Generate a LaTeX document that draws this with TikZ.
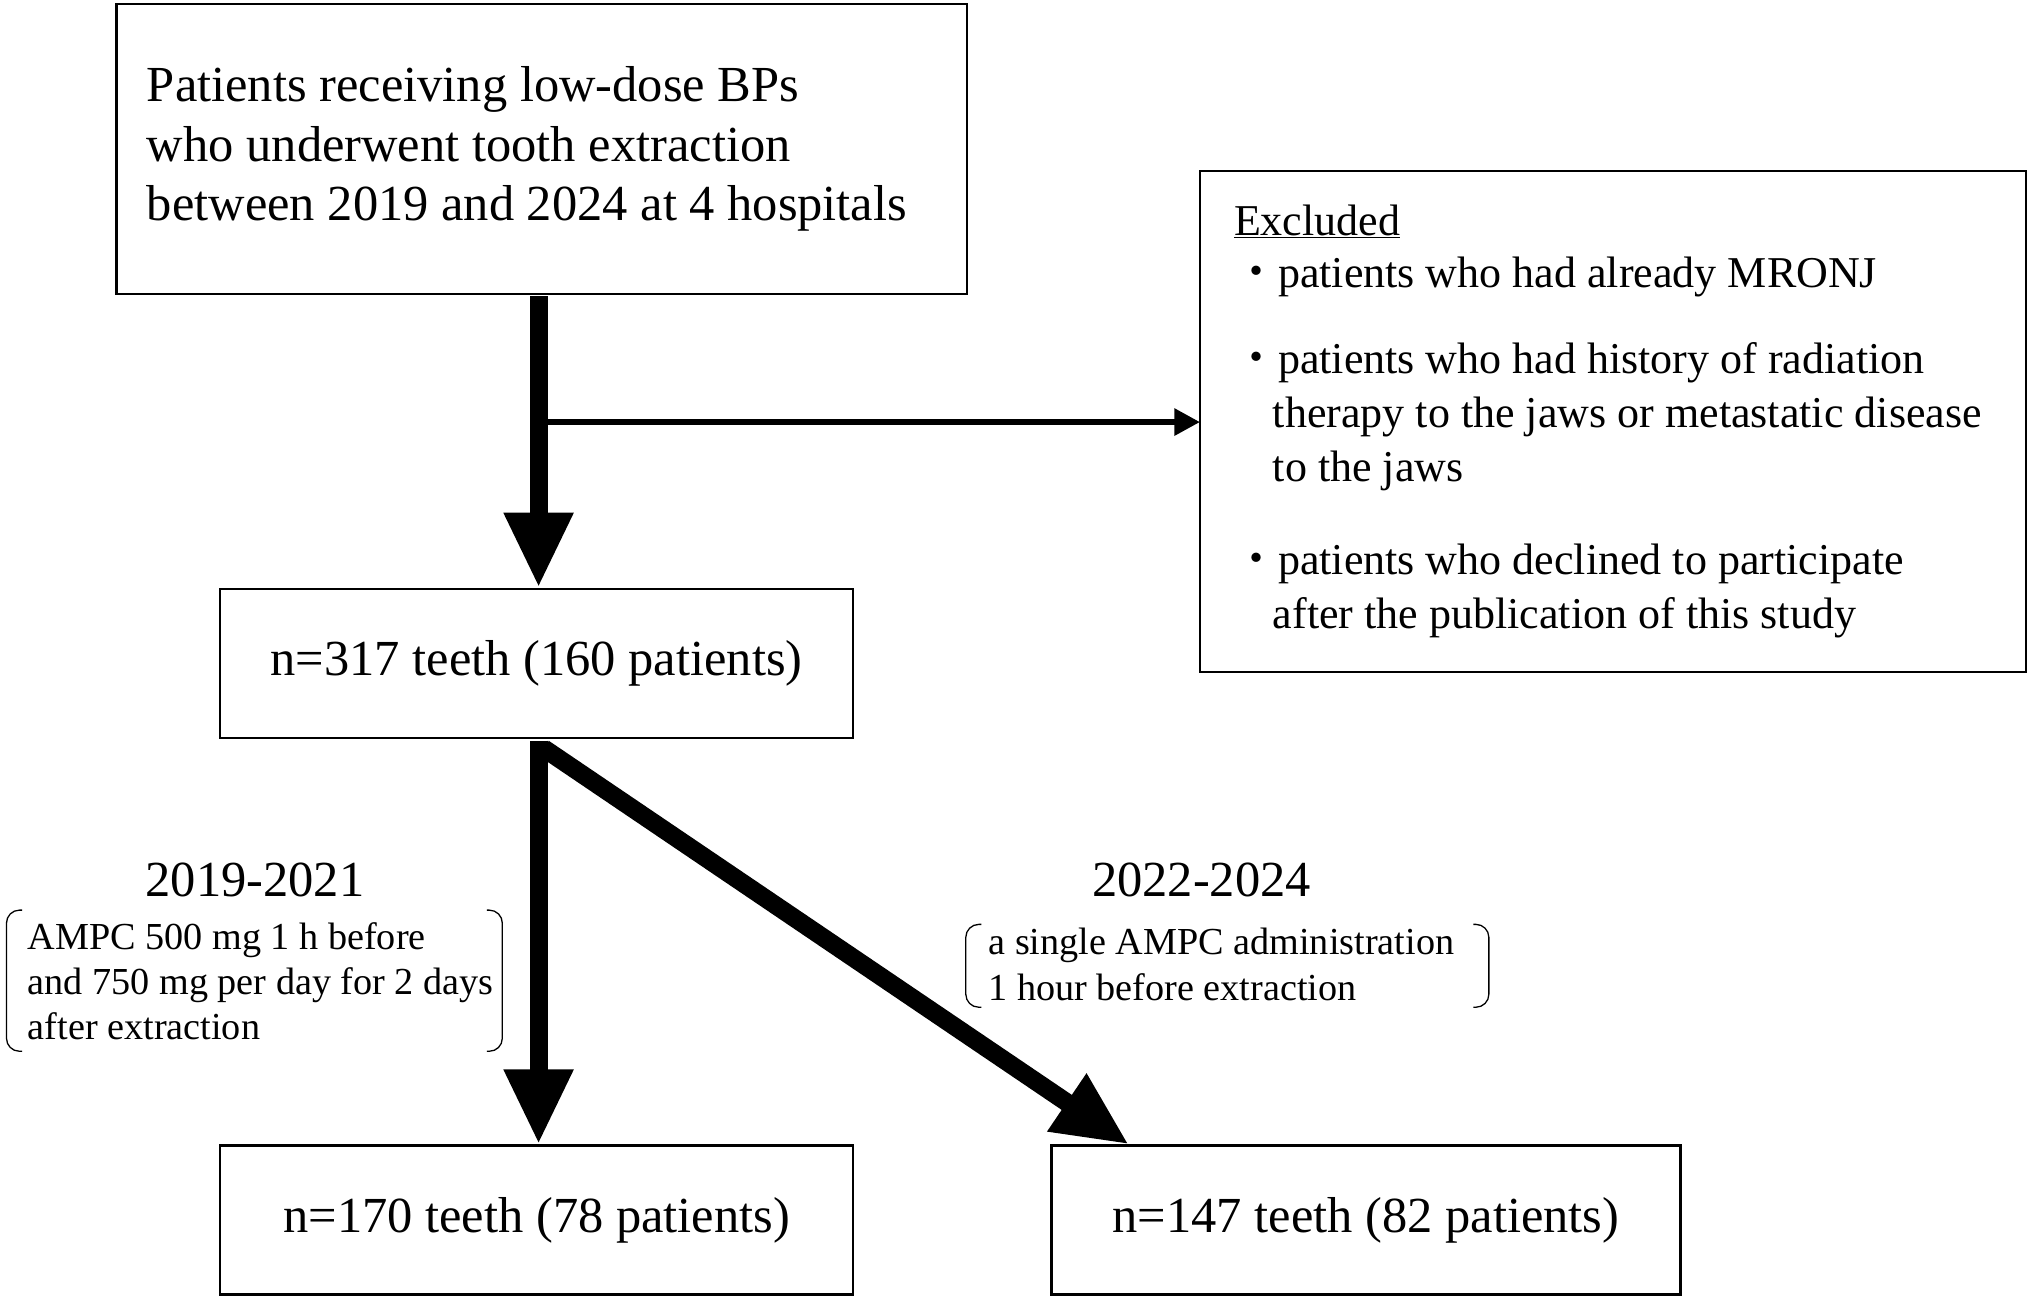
\documentclass[tikz,border=0pt]{standalone}
\usepackage{fontspec}
\setmainfont{Liberation Serif}
\newfontfamily\cjk{Noto Sans CJK JP}
\usetikzlibrary{arrows.meta}
\newcommand{\bul}{{\cjk ・}}
\begin{document}
\begin{tikzpicture}[x=1pt,y=-1pt,
  box/.style={draw,line width=2pt},
  big/.style={font=\fontsize{39}{46}\selectfont},
  mid/.style={font=\fontsize{34}{42}\selectfont},
  sml/.style={font=\fontsize{29.5}{35}\selectfont},
  thick arrow/.style={line width=14pt,-{Triangle[width=50pt,length=58pt]}},
  thin arrow/.style={line width=5pt,-{Triangle[width=20pt,length=20pt]}},
  brk/.style={line width=1pt,rounded corners=10pt}]
\useasboundingbox (0,0) rectangle (1568,1006);
\draw[box] (90,3) rectangle (747,227);
\node[big,anchor=west,align=left] (t1) at (110,115) {Patients receiving low-dose BPs\\who underwent tooth extraction\\between 2019 and 2024 at 4 hospitals};
\draw[box] (927,132) rectangle (1565,519);
\node[mid,anchor=north west,align=left,inner sep=0] (ex) at (953,158) {\underline{Excluded}};
\node[mid,anchor=north west,align=left,inner sep=0] (e1) at (953,198) {\bul patients who had already MRONJ};
\node[mid,anchor=north west,align=left,inner sep=0] (e2) at (953,264) {\bul patients who had history of radiation\\\hspace*{30pt}therapy to the jaws or metastatic disease\\\hspace*{30pt}to the jaws};
\node[mid,anchor=north west,align=left,inner sep=0] (e3) at (953,420) {\bul patients who declined to participate\\\hspace*{30pt}after the publication of this study};
\node[box,big,minimum width=489pt,minimum height=115pt] (n2) at (414.5,512.5) {n=317 teeth (160 patients)};
\node[box,big,minimum width=489pt,minimum height=115pt] (n3) at (414.5,942.5) {n=170 teeth (78 patients)};
\node[box,big,minimum width=486pt,minimum height=115pt] (n4) at (1055,942.5) {n=147 teeth (82 patients)};
\coordinate (a0) at (416,229);
\coordinate (am) at (416,326);
\coordinate (ae) at (927,326);
\draw[thick arrow] (a0) -- (n2.north -| a0);
\draw[thin arrow] (am) -- (ae);
\coordinate (b0) at (416,572);
\draw[thick arrow] (b0) -- (416,884);
\draw[thick arrow] (420,578) -- (872,884);
\node[big] (y1) at (197,680) {2019-2021};
\node[big] (y2) at (928,680) {2022-2024};
\node[sml,anchor=west,align=left] (d1) at (18,758) {AMPC 500 mg 1 h before\\and 750 mg per day for 2 days\\after extraction};
\node[sml,anchor=west,align=left] (d2) at (760,745) {a single AMPC administration\\1 hour before extraction};
\draw[brk] (17,703) -- (5,703) -- (5,812) -- (17,812);
\draw[brk] (376,703) -- (388,703) -- (388,812) -- (376,812);
\draw[brk] (758,714) -- (746,714) -- (746,778) -- (758,778);
\draw[brk] (1138,714) -- (1150,714) -- (1150,778) -- (1138,778);
\end{tikzpicture}
\end{document}
